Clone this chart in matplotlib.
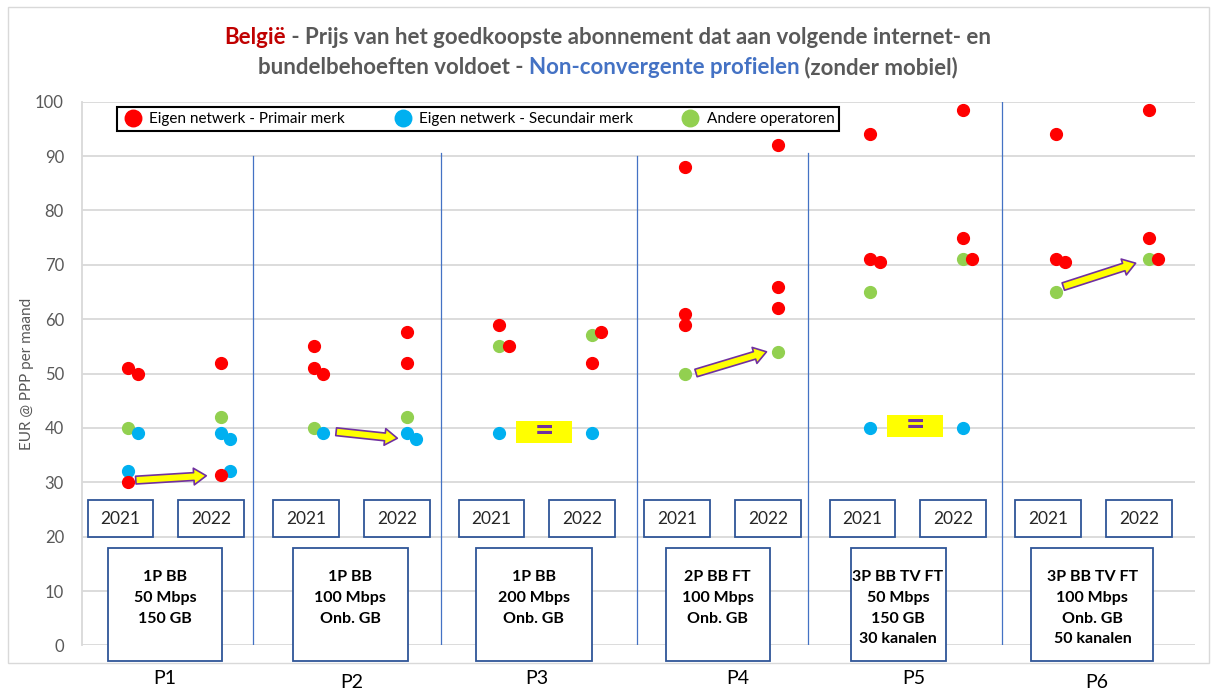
import matplotlib
matplotlib.use('Agg')
import matplotlib.pyplot as plt
from matplotlib.patches import Rectangle, FancyArrowPatch
from matplotlib.lines import Line2D

plt.rcParams['font.family'] = ['Lato', 'DejaVu Sans']

# profiles and their descriptions
profiles = ['P1', 'P2', 'P3', 'P4', 'P5', 'P6']
profile_text = ['1P BB\n50 Mbps\n150 GB',
                '1P BB\n100 Mbps\nOnb. GB',
                '1P BB\n200 Mbps\nOnb. GB',
                '2P BB FT\n100 Mbps\nOnb. GB',
                '3P BB TV FT\n50 Mbps\n150 GB\n30 kanalen',
                '3P BB TV FT\n100 Mbps\nOnb. GB\n50 kanalen']
years = ['2021', '2022']

# prices (EUR @ PPP per maand), per profile; "_side" = dot drawn next to the first one
red_2021 = [[51, 30], [55, 51], [59], [88, 61, 59], [94, 71], [94, 71]]
red_2021_side = [[50], [50], [55], [], [70.5], [70.5]]
red_2022 = [[52, 31.4], [57.6, 52], [52], [92, 66, 62], [98.5, 75], [98.5, 75]]
red_2022_side = [[], [], [57.6], [], [71], [71]]
blue_2021 = [[32], [], [39], [], [40], []]
blue_2021_side = [[39], [39], [], [], [], []]
blue_2022 = [[39], [39], [39], [], [40], []]
blue_2022_side = [[32, 38], [38], [], [], [], []]
green_2021 = [[40], [40], [55], [50], [65], [65]]
green_2022 = [[42], [42], [57], [54], [71], [71]]

# trend arrows (profile index, start price, end price) and "=" markers
arrow_profile = [0, 1, 3, 5]
arrow_start = [30.4, 39.3, 50.1, 66.0]
arrow_end = [31.2, 38.1, 54.0, 70.3]
equal_profile = [2, 4]
equal_level = [39.3, 40.4]

# layout bits (x in profile units)
x21, x22, side = 0.25, 0.75, 0.05
arrow_x0 = [0.29, 0.37, 0.31, 0.29]
arrow_x1 = [0.67, 0.70, 0.69, 0.68]
equal_x = [0.34, 0.34]
box_left = [0.140, 0.137, 0.123, 0.147, 0.143, 0.118]
box_right = [0.754, 0.756, 0.748, 0.707, 0.655, 0.776]
label_x = [0.447, 0.455, 0.451, 0.534, 0.483, 0.469]
label_y = [-6.1, -6.8, -6.1, -6.1, -6.1, -6.8]
sep_x = [0.921, 1.934, 2.990, 3.912, 4.962]
sep_top = [90, 90.6, 90, 90.6, 100]

RED, BLUE, GREEN = '#FF0000', '#00B0F0', '#92D050'
EDGE = '#2F5597'

W, H = 1213, 689
fig = plt.figure(figsize=(W / 100, H / 100), dpi=100)
ax = fig.add_axes([82 / W, 1 - 645.4 / H, (1195 - 82) / W, (645.4 - 101.7) / H])

def series(center, beside, pos, color, z):
    xs, ys = [], []
    for i in range(len(profiles)):
        for v in center[i]:
            xs.append(i + pos); ys.append(v)
        for v in beside[i]:
            xs.append(i + pos + side); ys.append(v)
    ax.plot(xs, ys, 'o', color=color, ms=8.5, zorder=z, clip_on=False)

series(green_2021, [[]] * 6, x21, GREEN, 3)
series(green_2022, [[]] * 6, x22, GREEN, 3)
series(blue_2021, blue_2021_side, x21, BLUE, 4)
series(blue_2022, blue_2022_side, x22, BLUE, 4)
series(red_2021, red_2021_side, x21, RED, 5)
series(red_2022, red_2022_side, x22, RED, 5)

ax.set_xlim(0, 6)
ax.set_ylim(0, 100)
ax.set_yticks(range(0, 101, 10))
ax.set_xticks([])
ax.tick_params(axis='y', length=0, pad=13, labelsize=12, labelcolor='#595959')
ax.grid(axis='y', color='#d9d9d9', lw=1.3)
ax.set_axisbelow(True)
for s in ['top', 'right', 'bottom']:
    ax.spines[s].set_visible(False)
ax.spines['left'].set_color('#d9d9d9')
ax.spines['left'].set_linewidth(1.3)
ax.set_ylabel('EUR @ PPP per maand', fontsize=11, color='#595959', labelpad=1)

# separators between profiles
for x, top in zip(sep_x, sep_top):
    ax.plot([x, x], [0, top], color='#4472C4', lw=0.9, zorder=2)

# year boxes, profile boxes and labels
for i in range(len(profiles)):
    for x0, yr in [(0.03, years[0]), (0.52, years[1])]:
        ax.add_patch(Rectangle((i + x0, 19.9), 0.355, 6.8, fill=True, fc='white',
                               ec=EDGE, lw=1.3, zorder=6))
        ax.text(i + x0 + 0.1775, 23.3, yr, ha='center', va='center', fontsize=12.5,
                color='#262626', zorder=7)
    ax.add_patch(Rectangle((i + box_left[i], -2.8), box_right[i] - box_left[i], 20.7,
                           fc='white', ec=EDGE, lw=1.3, zorder=6, clip_on=False))
    ax.text(i + (box_left[i] + box_right[i]) / 2, 13.8, profile_text[i], ha='center',
            va='top', fontsize=11.5, fontweight='bold', linespacing=1.6, zorder=7)
    ax.text(i + label_x[i], label_y[i], profiles[i], ha='center', va='center',
            fontsize=14, clip_on=False)

# arrows
for p, a0, a1, x0, x1 in zip(arrow_profile, arrow_start, arrow_end, arrow_x0, arrow_x1):
    ax.add_patch(FancyArrowPatch((p + x0, a0), (p + x1, a1),
                                 arrowstyle='simple,head_length=0.45,head_width=0.6,tail_width=0.28',
                                 mutation_scale=20, fc='#FFFF00', ec='#7030A0', lw=1.2,
                                 shrinkA=0, shrinkB=0, zorder=6))

# "=" markers
for p, lvl, x0 in zip(equal_profile, equal_level, equal_x):
    ax.add_patch(Rectangle((p + x0, lvl - 2.05), 0.30, 4.1, fc='#FFFF00', ec='none', zorder=6))
    ax.text(p + x0 + 0.15, lvl, '=', ha='center', va='center', fontsize=24,
            fontweight='bold', color='#7030A0', zorder=7)

# legend
handles = [Line2D([], [], ls='none', marker='o', color=c, ms=8.5) for c in (RED, BLUE, GREEN)]
labels = ['Eigen netwerk - Primair merk', 'Eigen netwerk - Secundair merk', 'Andere operatoren']
leg = ax.legend(handles, labels, loc='lower left', bbox_to_anchor=(0.031, 0.947, 0.649, 0.049),
                mode='expand', ncol=3, fancybox=False, edgecolor='black', framealpha=1,
                borderaxespad=0, fontsize=11, markerscale=1.4, handletextpad=0.25,
                borderpad=0.3, handlelength=1.6)
leg.get_frame().set_linewidth(1.5)
leg.set_zorder(8)

# outer frame
fig.patches.append(Rectangle((8 / W, 1 - 663 / H), 1201 / W, 656 / H, transform=fig.transFigure,
                             fill=False, ec='#d9d9d9', lw=1))

# multi-coloured title
def title_line(ypix, pieces):
    texts = [fig.text(0, 1 - ypix / H, s, color=c, fontsize=16, fontweight='bold', va='center')
             for s, c in pieces]
    fig.canvas.draw()
    r = fig.canvas.get_renderer()
    widths = [t.get_window_extent(r).width for t in texts]
    x = 608 - sum(widths) / 2
    for t, w in zip(texts, widths):
        t.set_x(x / W)
        x += w

GRAY = '#595959'
title_line(38, [('België', '#C00000'),
                (' - Prijs van het goedkoopste abonnement dat aan volgende internet- en', GRAY)])
title_line(68, [('bundelbehoeften voldoet - ', GRAY), ('Non-convergente profielen', '#4472C4'),
                (' (zonder mobiel)', GRAY)])

fig.savefig('out.png', dpi=100)
